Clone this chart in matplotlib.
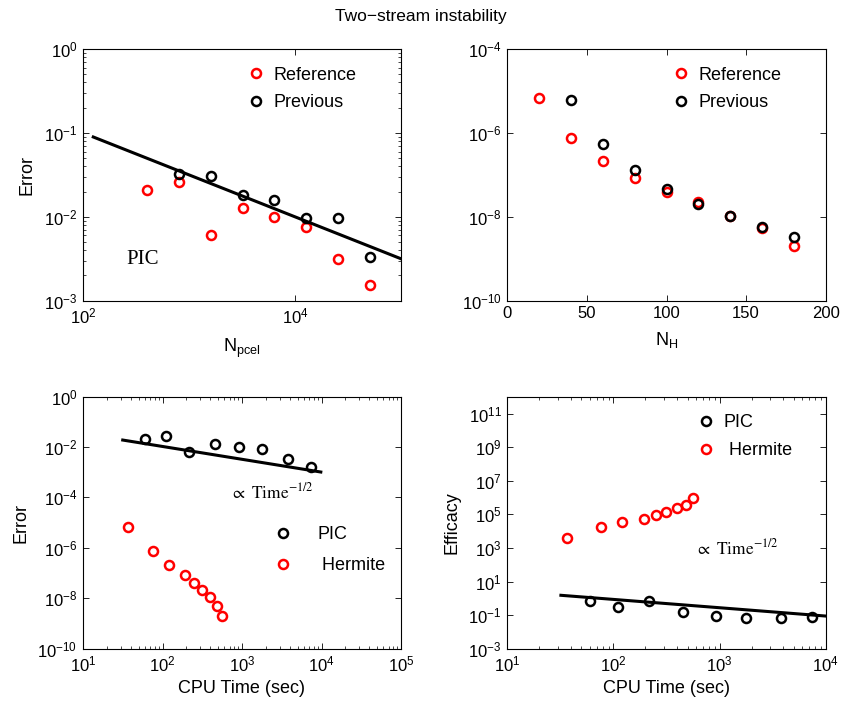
import numpy as np
import matplotlib
matplotlib.use("Agg")
import matplotlib.pyplot as plt
from matplotlib.ticker import FixedLocator, FuncFormatter, LogLocator, NullLocator

plt.rcParams["font.family"] = ["Liberation Sans", "DejaVu Sans"]
plt.rcParams["axes.linewidth"] = 0.8

# ---- data ----
# top-left: error vs particles per cell
n_pcel_ref = [400, 800, 1600, 3200, 6400, 12800, 25600, 51200]
err_pcel_ref = [0.0208, 0.0259, 0.0061, 0.0128, 0.0100, 0.0076, 0.00316, 0.00153]
n_pcel_prev = [800, 1600, 3200, 6400, 12800, 25600, 51200]
err_pcel_prev = [0.0322, 0.0308, 0.0180, 0.0158, 0.00955, 0.00955, 0.00334]
fit_pcel_n = [125, 100000]
fit_pcel_err = [0.0894, 0.00316]

# top-right: error vs number of Hermite modes
n_h_ref = [20, 40, 60, 80, 100, 120, 140, 160, 180]
err_h_ref = [6.9e-6, 7.7e-7, 2.15e-7, 8.6e-8, 3.9e-8, 2.2e-8, 1.07e-8, 5.4e-9, 2.04e-9]
n_h_prev = [40, 60, 80, 100, 120, 140, 160, 180]
err_h_prev = [6.1e-6, 5.5e-7, 1.32e-7, 4.6e-8, 2.04e-8, 1.02e-8, 5.6e-9, 3.3e-9]

# bottom: CPU time comparison
cpu_pic = [60, 111, 218, 455, 928, 1787, 3820, 7370]
err_pic = [0.0214, 0.0274, 0.00636, 0.0129, 0.0101, 0.00817, 0.00339, 0.00158]
eff_pic = [0.71, 0.31, 0.71, 0.157, 0.091, 0.066, 0.072, 0.079]
cpu_hermite = [36.6, 76.4, 119.5, 192.5, 251, 313, 393, 487, 560]
err_hermite = [6.8e-6, 7.6e-7, 2.1e-7, 8.2e-8, 3.9e-8, 2.1e-8, 1.07e-8, 5.0e-9, 1.95e-9]
eff_hermite = [3740, 1.7e4, 3.7e4, 5.6e4, 9.3e4, 1.47e5, 2.55e5, 3.85e5, 9.7e5]
fit_err_t = [31.6, 9800]
fit_err_v = [0.019, 0.00102]
fit_eff_t = [32, 10000]
fit_eff_v = [1.56, 0.091]

RED = "#ff0000"
MK = dict(marker="o", ls="none", mfc="none", ms=6.5, mew=1.8)
W, H = 841, 706


def ax_at(fig, left, top, right, bottom):
    return fig.add_axes([left / W, 1 - bottom / H, (right - left) / W, (bottom - top) / H])


def pow10(v, pos):
    e = int(round(np.log10(v)))
    return r"$\mathdefault{10^{%d}}$" % e


def style(ax):
    ax.tick_params(which="both", direction="in", top=True, right=True,
                   labelsize=12, color="black")
    ax.tick_params(which="major", length=4, width=0.6, pad=4)
    ax.tick_params(which="minor", length=2, width=0.5)


def log_ticks(axis, exps, minor=False):
    axis.set_major_locator(FixedLocator([10.0 ** e for e in exps]))
    axis.set_major_formatter(FuncFormatter(pow10))
    if minor:
        axis.set_minor_locator(LogLocator(base=10, subs=np.arange(2, 10), numticks=50))
    else:
        axis.set_minor_locator(NullLocator())


def legend(ax, x, y, pad, spacing):
    ax.legend(loc="upper left", bbox_to_anchor=(x, y), frameon=False, fontsize=13,
              handlelength=1.0, handletextpad=pad, labelspacing=spacing,
              borderpad=0, borderaxespad=0, numpoints=1)


fig = plt.figure(figsize=(W / 100, H / 100), dpi=100)

# ---- top-left ----
ax1 = ax_at(fig, 83, 49, 401, 300.7)
ax1.plot(n_pcel_ref, err_pcel_ref, mec=RED, label="Reference", **MK)
ax1.plot(n_pcel_prev, err_pcel_prev, mec="black", label="Previous", **MK)
ax1.plot(fit_pcel_n, fit_pcel_err, color="black", lw=2.2)
ax1.set_xscale("log")
ax1.set_yscale("log")
ax1.set_xlim(1e2, 1e5)
ax1.set_ylim(1e-3, 1e0)
log_ticks(ax1.xaxis, [2, 4])
log_ticks(ax1.yaxis, [-3, -2, -1, 0], minor=True)
style(ax1)
ax1.set_xlabel(r"$\mathregular{N_{pcel}}$", fontsize=13, labelpad=8)
ax1.set_ylabel("Error", fontsize=13, labelpad=6)
ax1.text(0.137, 0.164, "PIC", transform=ax1.transAxes, family="Liberation Serif",
         fontsize=15, ha="left", va="center")
legend(ax1, 0.515, 0.93, 0.5, 0.6)

# ---- top-right ----
ax2 = ax_at(fig, 507.3, 49, 825.7, 300.7)
ax2.plot(n_h_ref, err_h_ref, mec=RED, label="Reference", **MK)
ax2.plot(n_h_prev, err_h_prev, mec="black", label="Previous", **MK)
ax2.set_yscale("log")
ax2.set_xlim(0, 200)
ax2.set_ylim(1e-10, 1e-4)
ax2.set_xticks([0, 50, 100, 150, 200])
log_ticks(ax2.yaxis, [-10, -8, -6, -4])
style(ax2)
ax2.set_xlabel(r"$\mathregular{N_H}$", fontsize=13, labelpad=6)
legend(ax2, 0.517, 0.93, 0.5, 0.6)

# ---- bottom-left ----
ax3 = ax_at(fig, 83, 396.7, 401, 648.5)
ax3.plot(cpu_pic, err_pic, mec="black", label="PIC", **MK)
ax3.plot(cpu_hermite, err_hermite, mec=RED, label=" Hermite", **MK)
ax3.plot(fit_err_t, fit_err_v, color="black", lw=2.2)
ax3.set_xscale("log")
ax3.set_yscale("log")
ax3.set_xlim(1e1, 1e5)
ax3.set_ylim(1e-10, 1e0)
log_ticks(ax3.xaxis, [1, 2, 3, 4, 5], minor=True)
log_ticks(ax3.yaxis, [-10, -8, -6, -4, -2, 0])
style(ax3)
ax3.set_xlabel("CPU Time (sec)", fontsize=13, labelpad=4)
ax3.set_ylabel("Error", fontsize=13, labelpad=6)
ax3.text(0.462, 0.598, r"$\propto\ \mathrm{Time}^{-1/2}$", transform=ax3.transAxes,
         fontsize=12.5, math_fontfamily="stix", ha="left", va="baseline")
legend(ax3, 0.6, 0.485, 1.4, 0.75)

# ---- bottom-right ----
ax4 = ax_at(fig, 507.3, 396.7, 825.7, 649)
ax4.plot(cpu_pic, eff_pic, mec="black", label="PIC", **MK)
ax4.plot(cpu_hermite, eff_hermite, mec=RED, label=" Hermite", **MK)
ax4.plot(fit_eff_t, fit_eff_v, color="black", lw=2.2)
ax4.set_xscale("log")
ax4.set_yscale("log")
ax4.set_xlim(1e1, 1e4)
ax4.set_ylim(1e-3, 1e12)
log_ticks(ax4.xaxis, [1, 2, 3, 4], minor=True)
log_ticks(ax4.yaxis, [-3, -1, 1, 3, 5, 7, 9, 11])
style(ax4)
ax4.set_xlabel("CPU Time (sec)", fontsize=13, labelpad=4)
ax4.set_ylabel("Efficacy", fontsize=13, labelpad=6)
ax4.text(0.5895, 0.375, r"$\propto\ \mathrm{Time}^{-1/2}$", transform=ax4.transAxes,
         fontsize=12.5, math_fontfamily="stix", ha="left", va="baseline")
legend(ax4, 0.595, 0.93, 0.5, 0.6)

fig.text(0.5, 1 - 17 / H, "Two\u2212stream instability", ha="center", va="center", fontsize=12.5)

fig.savefig("out.png", dpi=100)
